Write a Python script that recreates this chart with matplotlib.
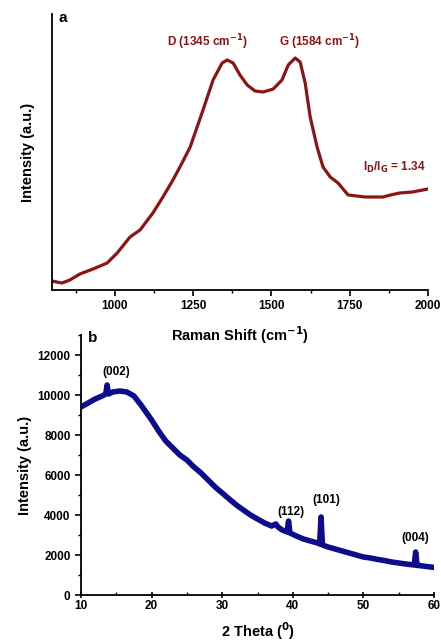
import matplotlib
matplotlib.use("Agg")
import matplotlib.pyplot as plt
from matplotlib.ticker import MultipleLocator

plt.rcParams['font.family'] = ['Liberation Sans', 'DejaVu Sans']
plt.rcParams['font.weight'] = 'bold'
plt.rcParams['mathtext.default'] = 'bf'

# Panel a: Raman spectrum
raman_shift = [800, 815, 832, 857, 889, 931, 976, 1008, 1049, 1081, 1122, 1154, 1186,
               1215, 1241, 1282, 1314, 1343, 1359, 1378, 1400, 1423, 1448, 1474, 1506,
               1534, 1554, 1576, 1592, 1608, 1624, 1646, 1665, 1688, 1713, 1745, 1773,
               1800, 1856, 1880, 1910, 1950, 2000]
raman_int = [9, 8, 7, 10, 16, 21, 27, 37, 53, 60, 77, 93, 110,
             127, 143, 180, 210, 227, 230, 227, 215, 205, 199, 198, 201,
             210, 225, 232, 228, 207, 173, 143, 123, 113, 107, 95, 94,
             93, 93, 95, 97, 98, 101]

# Panel b: XRD pattern
two_theta = [10, 11, 12, 13, 13.5, 13.7, 13.9, 14.5, 15.5, 16.5, 17.5, 18.5, 19.5, 20,
             21, 22, 23, 24, 25, 26, 27, 28, 29, 30, 31, 32, 33, 34, 35, 36, 37, 37.6,
             37.9, 38.5, 39.2, 39.4, 39.6, 40.5, 41.5, 42.5, 43.5, 43.8, 44.0, 44.2, 45,
             46, 47, 48, 49, 50, 51, 52, 53, 54, 55, 56, 57.2, 57.4, 57.6, 58, 59, 60]
xrd_int = [9400, 9600, 9800, 9950, 10050, 10500, 10050, 10150, 10200, 10150, 9950, 9500,
           9000, 8750, 8200, 7700, 7350, 7000, 6750, 6400, 6100, 5750, 5400, 5100, 4800,
           4500, 4250, 4000, 3800, 3600, 3450, 3550, 3400, 3250, 3150, 3700, 3100, 2950,
           2800, 2700, 2600, 2550, 3900, 2500, 2400, 2300, 2200, 2100, 2000, 1900, 1850,
           1780, 1720, 1650, 1600, 1550, 1500, 2150, 1480, 1470, 1420, 1380]

red = '#8b1515'
blue = '#0c0c8c'

fig = plt.figure(figsize=(4.41, 6.43), dpi=100)
W, H = 441, 643

# panel a axes
axa = fig.add_axes([52 / W, 1 - 290 / H, (428 - 52) / W, (290 - 14) / H])
axa.plot(raman_shift, raman_int, color=red, lw=2.3, solid_joinstyle='round',
         solid_capstyle='round')
axa.set_xlim(800, 2000)
axa.set_ylim(0, 276)
axa.spines['top'].set_visible(False)
axa.spines['right'].set_visible(False)
for s in axa.spines.values():
    s.set_linewidth(1.3)
axa.set_yticks([])
axa.xaxis.set_minor_locator(MultipleLocator(125))
axa.set_xticks([1000, 1250, 1500, 1750, 2000])
axa.tick_params(axis='x', which='major', direction='out', length=4, width=1.2, labelsize=8.5)
axa.tick_params(axis='x', which='minor', direction='out', length=2.5, width=1.0)
axa.set_ylabel('Intensity (a.u.)', fontsize=10.5, fontweight='bold', labelpad=12)
axa.text(835, 272, 'a', fontsize=11, fontweight='bold', ha='center', va='center')
axa.text(1295, 248, 'D (1345 cm$^{-1}$)', color=red, fontsize=8.5, fontweight='bold',
         ha='center', va='center')
axa.text(1653, 248, 'G (1584 cm$^{-1}$)', color=red, fontsize=8.5, fontweight='bold',
         ha='center', va='center')
axa.text(1892, 123, 'I$_{D}$/I$_{G}$ = 1.34', color=red, fontsize=8.5,
         fontweight='bold', ha='center', va='center')
fig.text(240 / W, 1 - 335 / H, 'Raman Shift (cm$^{-1}$)', fontsize=10.5,
         fontweight='bold', ha='center', va='center')

# panel b axes
axb = fig.add_axes([81 / W, 1 - 595 / H, (434 - 81) / W, (595 - 335) / H])
axb.plot(two_theta, xrd_int, color=blue, lw=4.0, solid_joinstyle='round')
axb.set_xlim(10, 60)
axb.set_ylim(0, 13000)
axb.spines['top'].set_visible(False)
axb.spines['right'].set_visible(False)
for s in axb.spines.values():
    s.set_linewidth(1.3)
axb.xaxis.set_minor_locator(MultipleLocator(5))
axb.yaxis.set_minor_locator(MultipleLocator(1000))
axb.set_xticks([10, 20, 30, 40, 50, 60])
axb.set_yticks([0, 2000, 4000, 6000, 8000, 10000, 12000])
axb.tick_params(axis='x', which='major', direction='inout', length=5, width=1.2, labelsize=8.5,
                pad=1)
axb.tick_params(axis='x', which='minor', direction='in', length=2.5, width=1.0)
axb.tick_params(axis='y', which='major', direction='out', length=4, width=1.2, labelsize=8.5)
axb.tick_params(axis='y', which='minor', direction='out', length=2, width=1.0)
axb.set_ylabel('Intensity (a.u.)', fontsize=10.5, fontweight='bold', labelpad=4)
fig.text(258 / W, 1 - 631 / H, '2 Theta ($^{0}$)', fontsize=10.5, fontweight='bold',
         ha='center', va='center')
axb.text(11.7, 12850, 'b', fontsize=11, fontweight='bold', ha='center', va='center')
axb.text(15.0, 11150, '(002)', fontsize=8.5, fontweight='bold', ha='center', va='center')
axb.text(39.8, 4150, '(112)', fontsize=8.5, fontweight='bold', ha='center', va='center')
axb.text(44.8, 4750, '(101)', fontsize=8.5, fontweight='bold', ha='center', va='center')
axb.text(57.4, 2850, '(004)', fontsize=8.5, fontweight='bold', ha='center', va='center')

fig.savefig('out.png', dpi=100)
